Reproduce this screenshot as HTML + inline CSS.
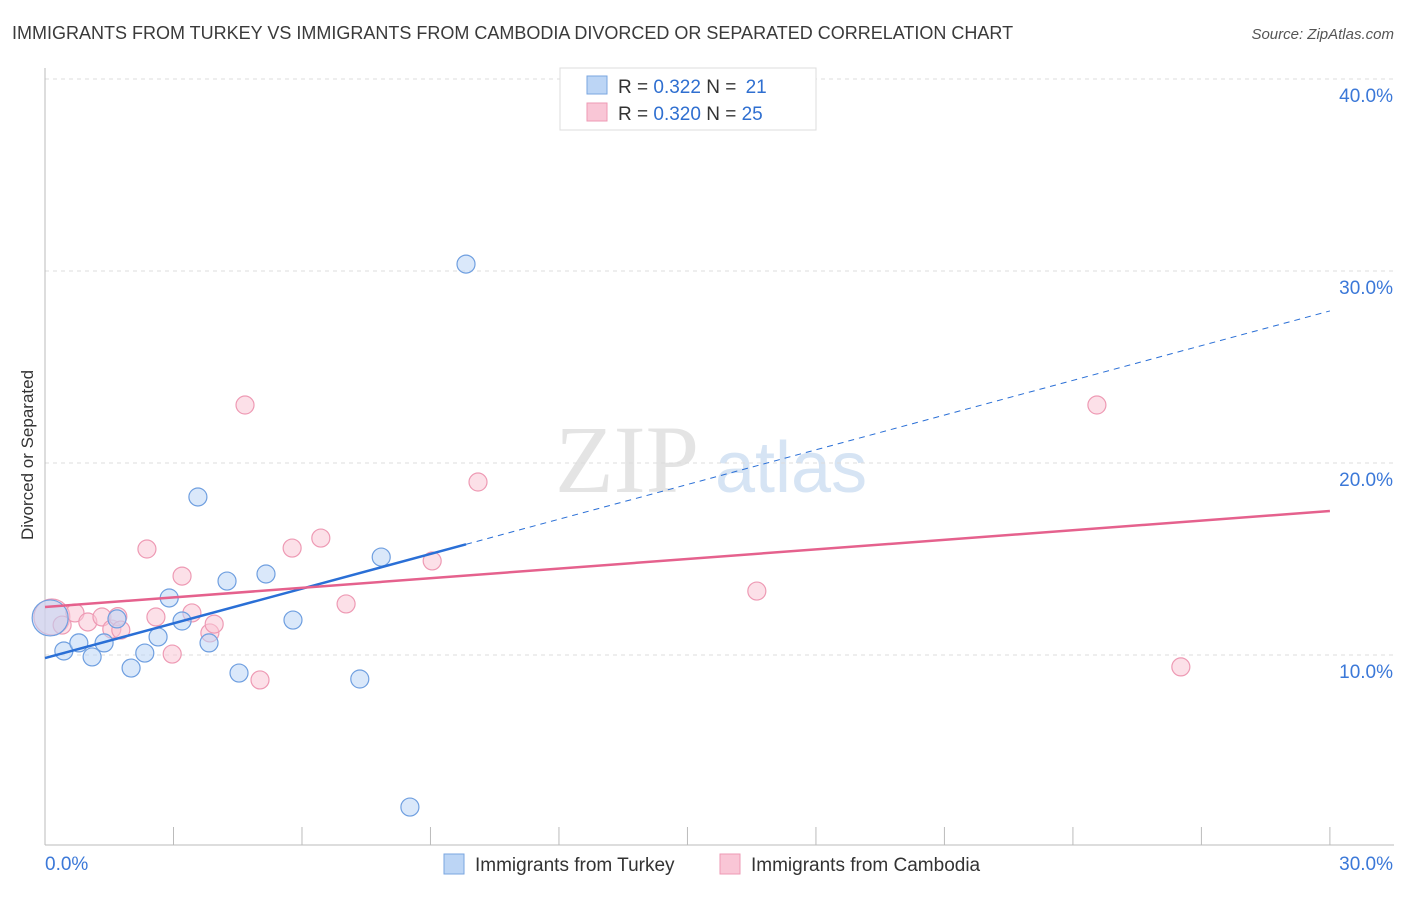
<!DOCTYPE html>
<html><head><meta charset="utf-8"><style>
body{margin:0;background:#fff;font-family:"Liberation Sans",sans-serif;}
</style></head><body>
<svg id="c" width="1406" height="892" xmlns="http://www.w3.org/2000/svg" font-family="Liberation Sans, sans-serif">
<text x="12" y="39" font-size="18" fill="#3a3a3a">IMMIGRANTS FROM TURKEY VS IMMIGRANTS FROM CAMBODIA DIVORCED OR SEPARATED CORRELATION CHART</text>
<text x="1394" y="39" font-size="15" fill="#555" text-anchor="end" font-style="italic">Source: ZipAtlas.com</text>
<text x="555" y="492" font-size="96" fill="#e4e4e4" font-family="Liberation Serif, serif">ZIP</text>
<text x="715" y="492" font-size="72" fill="#d6e4f4">atlas</text>
<text transform="translate(33,455) rotate(-90)" font-size="17" fill="#333" text-anchor="middle">Divorced or Separated</text>
<g id="grid"></g><g id="marks"></g>
<g>
<rect x="560" y="68" width="256" height="62" fill="#fff" stroke="#ddd"/>
<rect x="587" y="76" width="20" height="18" fill="#bcd5f5" stroke="#7aa6e0"/>
<rect x="587" y="103" width="20" height="18" fill="#f9c6d6" stroke="#ee9ab4"/>
<text x="618" y="93" font-size="19" fill="#333">R = <tspan fill="#2f6fd0">0.322</tspan>   N = <tspan fill="#2f6fd0" dx="4">21</tspan></text>
<text x="618" y="120" font-size="19" fill="#333">R = <tspan fill="#2f6fd0">0.320</tspan>   N = <tspan fill="#2f6fd0">25</tspan></text>
</g>
<g>
<rect x="444" y="854" width="20" height="20" fill="#bcd5f5" stroke="#7aa6e0"/>
<text x="475" y="871" font-size="19" fill="#333">Immigrants from Turkey</text>
<rect x="720" y="854" width="20" height="20" fill="#f9c6d6" stroke="#ee9ab4"/>
<text x="751" y="871" font-size="19" fill="#333">Immigrants from Cambodia</text>
</g>
</svg>
<script>
const yTicks=[10,20,30,40];
const yTickLabels=["10.0%","20.0%","30.0%","40.0%"];
const xTickLabels=["0.0%","30.0%"];
const turkeyX=[0.12,0.44,0.79,1.10,1.38,1.68,2.01,2.33,2.64,2.90,3.20,3.57,3.83,4.25,4.53,5.16,5.79,7.35,7.85,8.52,9.83];
const turkeyY=[11.93,10.21,10.63,9.90,10.63,11.88,9.32,10.10,10.94,12.97,11.77,18.23,10.63,13.85,9.06,14.22,11.82,8.75,15.10,2.08,30.36];
const cambX=[0.16,0.40,0.70,1.00,1.33,1.56,1.70,1.77,2.38,2.59,2.97,3.20,3.43,3.85,3.95,4.67,5.02,5.77,6.44,7.03,9.04,10.11,16.62,24.56,26.52];
const cambY=[11.98,11.56,12.19,11.72,11.98,11.35,12.0,11.30,15.52,11.98,10.05,14.11,12.19,11.15,11.61,23.02,8.70,15.57,16.09,12.66,14.90,19.01,13.33,23.02,9.38];
const turkeyTrend=[9.84,27.92];
const cambTrend=[12.5,17.5];
const X=v=>45+v*42.83, Y=v=>847-v*19.2;
const NS="http://www.w3.org/2000/svg";
function mk(t,a,p){const e=document.createElementNS(NS,t);for(const k in a)e.setAttribute(k,a[k]);p.appendChild(e);return e;}
const g=document.getElementById('grid'), m=document.getElementById('marks');
yTicks.forEach((t,i)=>{
 const l=mk('line',{x1:45,x2:1394,y1:Y(t),y2:Y(t),stroke:'#ddd','stroke-dasharray':'4,4'},g);
 
 
 const tx=mk('text',{x:1393,y:Y(t)+23,'font-size':19,fill:'#3b78d8','text-anchor':'end'},g);
 tx.textContent=yTickLabels[i];
 
 
});
let ax=mk('line',{x1:45,x2:45,y1:68,y2:845,stroke:'#bbb'},g);


ax=mk('line',{x1:45,x2:1394,y1:845,y2:845,stroke:'#bbb'},g);


for(let i=0;i<=10;i++){const t=mk('line',{x1:X(i*3),x2:X(i*3),y1:827,y2:845,stroke:'#bbb'},g);
 
 }
[[0,'start',45],[30,'end',1393]].forEach((d,i)=>{const t=mk('text',{x:d[2],y:870,'font-size':19,fill:'#3b78d8','text-anchor':d[1]},g);t.textContent=xTickLabels[i];
 
 });
function pts(xs,ys,fill,stroke,name){xs.forEach((x,i)=>{const r=i===0?18:9;
 const c=mk('circle',{cx:X(x),cy:Y(ys[i]),r:r,fill:fill,'fill-opacity':0.55,stroke:stroke,'stroke-width':1.2},m);
 
 });}
pts(cambX,cambY,'#f9c6d6','#ee9ab4','cambodia-point');
pts(turkeyX,turkeyY,'#bcd5f5','#6f9fe0','turkey-point');
const tmax=Math.max(...turkeyX);
const ty=x=>turkeyTrend[0]+(turkeyTrend[1]-turkeyTrend[0])*x/30;
let l=mk('line',{x1:X(0),y1:Y(ty(0)),x2:X(tmax),y2:Y(ty(tmax)),stroke:'#2a6fd6','stroke-width':2.5},m);


l=mk('line',{x1:X(tmax),y1:Y(ty(tmax)),x2:X(30),y2:Y(ty(30)),stroke:'#2a6fd6','stroke-width':1,'stroke-dasharray':'6,5'},m);


l=mk('line',{x1:X(0),y1:Y(cambTrend[0]),x2:X(30),y2:Y(cambTrend[1]),stroke:'#e5618d','stroke-width':2.5},m);


</script>
</body></html>
